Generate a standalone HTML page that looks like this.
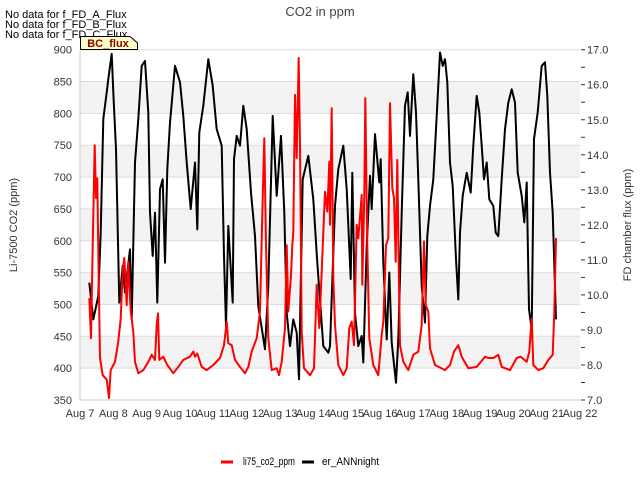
<!DOCTYPE html>
<html><head><meta charset="utf-8"><style>
body{margin:0;background:#fff;}
svg{display:block;font-family:"Liberation Sans",sans-serif;}
</style></head><body>
<svg id="chart" width="640" height="480">
<text x="5" y="18" font-size="11" fill="#000">No data for f_FD_A_Flux</text>
<text x="5" y="28" font-size="11" fill="#000">No data for f_FD_B_Flux</text>
<text x="5" y="38" font-size="11" fill="#000">No data for f_FD_C_Flux</text>
<text x="320" y="16" font-size="13" fill="#444" text-anchor="middle">CO2 in ppm</text>
<g id="bands"></g><g id="grid"></g>
<g id="series"></g>
<g id="axes"></g>
<g>
<path d="M80.5,49.5 L80.5,36.5 L130,36.5 L137.5,43 L137.5,49.5 Z" fill="#ffffcc" stroke="#000"/>
<text x="108" y="47" font-size="11" font-weight="bold" fill="#8b0000" text-anchor="middle">BC_flux</text>
</g>
<text transform="translate(17,225) rotate(-90)" font-size="11" fill="#333" text-anchor="middle">Li-7500 CO2 (ppm)</text>
<text transform="translate(631,225) rotate(-90)" font-size="11" fill="#333" text-anchor="middle">FD chamber flux (ppm)</text>
<g>
<line x1="221" y1="462" x2="233" y2="462" stroke="#f00" stroke-width="3"/>
<text x="243" y="465" font-size="11" fill="#000" textLength="52" lengthAdjust="spacingAndGlyphs">li75_co2_ppm</text>
<line x1="302" y1="462" x2="314" y2="462" stroke="#000" stroke-width="3"/>
<text x="322" y="465" font-size="11" fill="#000" textLength="57" lengthAdjust="spacingAndGlyphs">er_ANNnight</text>
</g>
</svg>
<script>
const xTickLabels=["Aug 7","Aug 8","Aug 9","Aug 10","Aug 11","Aug 12","Aug 13","Aug 14","Aug 15","Aug 16","Aug 17","Aug 18","Aug 19","Aug 20","Aug 21","Aug 22"];
const leftTicks=[350,400,450,500,550,600,650,700,750,800,850,900];
const rightTicks=[7.0,8.0,9.0,10.0,11.0,12.0,13.0,14.0,15.0,16.0,17.0];
const redT=[0.28,0.33,0.38,0.44,0.48,0.52,0.56,0.60,0.68,0.80,0.87,0.92,1.05,1.15,1.22,1.28,1.33,1.40,1.45,1.52,1.60,1.65,1.75,1.90,2.05,2.15,2.25,2.30,2.34,2.38,2.50,2.62,2.80,2.95,3.10,3.30,3.40,3.45,3.52,3.65,3.80,4.00,4.20,4.32,4.40,4.45,4.55,4.65,4.80,4.95,5.05,5.15,5.30,5.40,5.48,5.53,5.58,5.65,5.75,5.90,5.97,6.05,6.15,6.20,6.25,6.33,6.37,6.40,6.45,6.50,6.56,6.60,6.65,6.72,6.90,7.02,7.10,7.18,7.25,7.35,7.42,7.48,7.50,7.55,7.60,7.65,7.75,7.90,8.00,8.08,8.15,8.22,8.30,8.35,8.45,8.47,8.53,8.56,8.62,8.68,8.80,8.95,9.05,9.10,9.18,9.25,9.30,9.37,9.42,9.47,9.52,9.57,9.60,9.70,9.85,10.00,10.15,10.25,10.32,10.37,10.45,10.50,10.65,10.95,11.10,11.22,11.35,11.45,11.65,11.90,12.15,12.25,12.40,12.55,12.65,12.90,13.10,13.22,13.40,13.48,13.55,13.60,13.75,13.90,14.05,14.18,14.23,14.28];
const redV=[510,447,593,750,667,698,541,416,389,382,353,397,410,442,478,552,573,499,567,489,457,410,392,397,410,421,413,468,486,413,418,405,392,402,413,418,426,418,423,402,397,405,416,436,473,439,436,413,402,392,402,426,447,489,667,761,593,447,397,400,389,410,463,593,489,546,593,614,829,730,887,750,457,400,389,400,531,463,552,677,646,724,625,808,541,468,405,389,400,463,473,436,625,604,672,531,672,824,593,447,405,389,452,473,593,604,816,682,667,567,727,531,436,410,397,421,426,468,599,499,489,431,405,397,405,426,436,418,400,402,418,416,416,421,402,397,416,418,410,426,478,405,397,400,413,421,489,604];
const blackT=[0.28,0.40,0.55,0.62,0.70,0.80,0.85,0.95,1.00,1.08,1.18,1.28,1.35,1.50,1.55,1.65,1.75,1.85,1.95,2.05,2.10,2.18,2.25,2.32,2.40,2.48,2.55,2.62,2.70,2.85,3.00,3.10,3.20,3.32,3.45,3.52,3.58,3.70,3.85,3.98,4.10,4.25,4.32,4.38,4.45,4.58,4.62,4.70,4.80,4.90,5.00,5.13,5.25,5.35,5.55,5.65,5.78,5.90,6.03,6.13,6.20,6.30,6.40,6.50,6.57,6.68,6.85,7.00,7.12,7.30,7.45,7.50,7.65,7.75,7.90,8.00,8.12,8.17,8.25,8.35,8.45,8.50,8.60,8.70,8.75,8.85,8.98,9.02,9.10,9.20,9.28,9.35,9.48,9.55,9.65,9.75,9.83,9.90,10.00,10.08,10.15,10.25,10.35,10.42,10.50,10.60,10.70,10.80,10.88,10.95,11.02,11.10,11.18,11.28,11.35,11.40,11.48,11.60,11.72,11.80,11.90,11.98,12.05,12.12,12.20,12.28,12.40,12.47,12.55,12.65,12.75,12.85,12.95,13.05,13.13,13.25,13.33,13.40,13.47,13.55,13.62,13.73,13.85,13.95,14.02,14.10,14.18,14.28];
const blackV=[10.35,9.30,9.97,11.78,15.02,15.78,16.16,16.88,15.78,14.16,9.78,10.83,10.07,11.30,9.30,13.78,15.02,16.54,16.68,15.21,12.35,11.11,12.35,9.78,13.02,13.30,10.92,13.59,14.92,16.54,16.07,15.11,13.78,12.45,13.78,11.87,14.64,15.40,16.73,15.97,14.73,14.26,11.11,9.11,11.97,9.78,13.87,14.54,14.26,15.40,14.73,12.92,11.68,9.68,8.45,10.26,15.11,12.83,14.54,12.35,9.49,8.54,9.30,8.92,7.59,13.30,13.97,12.73,10.92,8.54,8.35,8.54,12.54,13.59,14.26,13.02,10.45,13.49,9.49,8.54,8.83,8.07,11.40,13.40,12.45,14.59,13.21,13.87,10.92,8.73,10.64,8.64,7.49,8.73,12.35,15.40,15.78,14.54,16.30,15.21,13.30,10.26,9.21,11.68,12.54,13.30,15.11,16.92,16.54,16.73,16.07,13.78,13.11,11.02,9.87,11.78,12.83,13.49,12.92,14.26,15.68,15.21,14.26,13.30,13.78,12.73,12.54,11.78,11.68,13.30,14.73,15.49,15.87,15.49,13.49,12.83,12.07,13.21,9.59,9.02,14.45,15.21,16.54,16.64,15.68,13.49,12.35,9.30];

const NS="http://www.w3.org/2000/svg";
const X0=80,X1=580,YT=49.7,YB=400;
const xs=t=>X0+t*(X1-X0)/15;
const yL=v=>YB-(v-350)*(YB-YT)/550;
const yR=v=>YB-(v-7)*(YB-YT)/10;
function mk(tag,attrs,parent){const e=document.createElementNS(NS,tag);for(const k in attrs)e.setAttribute(k,attrs[k]);parent.appendChild(e);return e;}
const bands=document.getElementById('bands'),grid=document.getElementById('grid'),axes=document.getElementById('axes'),series=document.getElementById('series');
for(let v=400;v<900;v+=100){
  const r=mk('rect',{x:X0,y:yL(v+50),width:X1-X0,height:yL(v)-yL(v+50),fill:'#f3f3f3'},bands);
  
  
}
leftTicks.forEach(v=>{
  const l=mk('line',{x1:X0,x2:X1,y1:yL(v),y2:yL(v),stroke:'#ddd','stroke-width':1},grid);
  
  
  const t=mk('text',{x:72,y:yL(v)+4,'font-size':11,fill:'#333','text-anchor':'end'},axes);
  t.textContent=v;
  
  
});
rightTicks.forEach(v=>{
  const t=mk('text',{x:587,y:yR(v)+4,'font-size':11,fill:'#333'},axes);
  t.textContent=v.toFixed(1);
  
  
});
for(let v=7;v<=17.01;v+=0.5){
  const l=mk('line',{x1:X1+1,x2:X1+5,y1:yR(v),y2:yR(v),stroke:'#333','stroke-width':1},axes);
  
  
}
xTickLabels.forEach((s,i)=>{
  const t=mk('text',{x:xs(i),y:417,'font-size':11,fill:'#333','text-anchor':'middle'},axes);
  t.textContent=s;
  
  
});
const ax=mk('path',{d:`M${X0},${YT} V${YB} H${X1}`,fill:'none',stroke:'#ccc','stroke-width':1},axes);


const bl=mk('path',{d:blackT.map((t,i)=>(i?'L':'M')+xs(t).toFixed(1)+','+yR(blackV[i]).toFixed(1)).join(''),fill:'none',stroke:'#000','stroke-width':2,'stroke-linejoin':'round'},series);


const rl=mk('path',{d:redT.map((t,i)=>(i?'L':'M')+xs(t).toFixed(1)+','+yL(redV[i]).toFixed(1)).join(''),fill:'none',stroke:'#f00','stroke-width':2,'stroke-linejoin':'round'},series);


</script>
</body></html>
